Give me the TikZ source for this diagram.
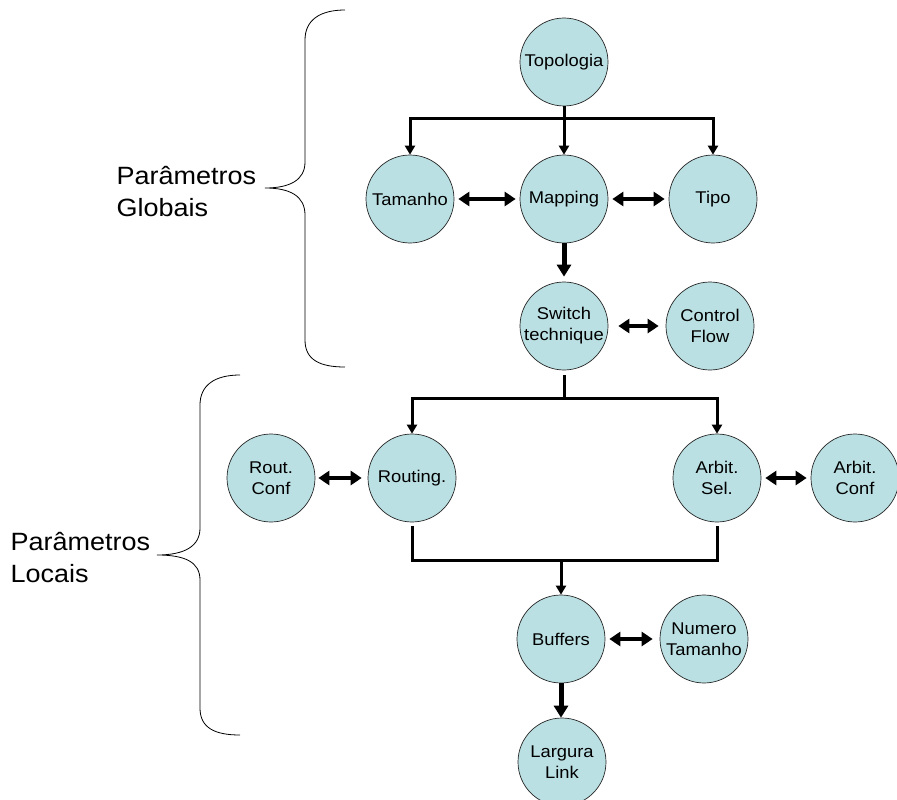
\documentclass[tikz,border=0pt]{standalone}
\usepackage{fontspec}
\setmainfont{Liberation Sans}[FakeStretch=1.08]
\usetikzlibrary{arrows.meta}
\definecolor{bubfill}{RGB}{187,224,227}
\begin{document}
\begin{tikzpicture}[x=1pt,y=-1pt,
 bub/.style={circle, minimum size=88pt, inner sep=0pt, draw=black!85, line width=0.7pt, fill=bubfill,
   label={[font=\fontsize{17}{21}\selectfont, align=center]center:#1}},
 bar/.style={line width=3pt},
 bararr/.style={line width=3pt, -{Triangle[length=9pt,width=10pt]}},
 bigarr/.style={line width=5pt, -{Triangle[length=12pt,width=14pt]}},
 dbl/.style={line width=4pt, {Triangle[length=11pt,width=14pt]}-{Triangle[length=11pt,width=14pt]}, shorten <=4pt, shorten >=4pt},
 brace/.style={line width=0.8pt},
 lbl/.style={font=\fontsize{25}{32}\selectfont, align=left, anchor=west}
]
\useasboundingbox (0,0) rectangle (897,800);
% nodes
\node[bub={Topologia}] (topo) at (564,62) {};
\node[bub={Tamanho}] (tam) at (410,199) {};
\node[bub={Mapping}] (map) at (564,199) {};
\node[bub={Tipo}] (tipo) at (713,199) {};
\node[bub={Switch\\technique}] (sw) at (564,326) {};
\node[bub={Control\\Flow}] (cf) at (710,326) {};
\node[bub={Rout.\\Conf}] (rc) at (271,478) {};
\node[bub={Routing.}] (rout) at (412,478) {};
\node[bub={Arbit.\\Sel.}] (asel) at (717,478) {};
\node[bub={Arbit.\\Conf}] (ac) at (855,478) {};
\node[bub={Buffers}] (buf) at (561,639) {};
\node[bub={Numero\\Tamanho}] (nt) at (704,639) {};
\node[bub={Largura\\Link}] (ll) at (562,762) {};
% bar coordinates
\coordinate (b1) at (564,118);
\coordinate (b2) at (564,398);
\coordinate (b3) at (561,560);
% connectors
\draw[bararr] (topo.south) -- (map.north);
\draw[bararr] (b1) -| (tam.north);
\draw[bararr] (b1) -| (tipo.north);
\draw[bigarr] (map.south) -- ([yshift=5pt]sw.north);
\draw[dbl] (tam) -- (map);
\draw[dbl] (map) -- (tipo);
\draw[dbl, shorten <=10pt, shorten >=7pt] (sw) -- (cf);
\draw[bar] ([yshift=-5pt]sw.south) -- (b2);
\draw[bararr] (b2) -| (rout.north);
\draw[bararr] (b2) -| (asel.north);
\draw[dbl, shorten <=3pt, shorten >=6pt] (rc) -- (rout);
\draw[dbl] (asel) -- (ac);
\draw[bar] ([yshift=-4pt]rout.south) -- (rout.south |- b3) -- (asel.south |- b3) -- ([yshift=-4pt]asel.south);
\draw[bararr] (b3) -- (buf.north);
\draw[dbl, shorten >=7pt] (buf) -- (nt);
\draw[bigarr] (buf.south) -- (buf.south |- ll.north);
% braces
\draw[brace] (345,10) .. controls (320,10) and (305,20) .. (305,40) -- (305,162)
  .. controls (305,180) and (290,188) .. (265,188)
  .. controls (290,188) and (305,196) .. (305,215) -- (305,340)
  .. controls (305,360) and (320,367) .. (345,367);
\draw[brace] (240,375) .. controls (215,375) and (200,385) .. (200,405) -- (200,528)
  .. controls (200,546) and (185,555) .. (157,555)
  .. controls (185,555) and (200,562) .. (200,580) -- (200,708)
  .. controls (200,728) and (215,735) .. (240,735);
% labels
\node[lbl] (pg) at (113,192) {Parâmetros\\Globais};
\node[lbl] (pl) at (7,558) {Parâmetros\\Locais};
\end{tikzpicture}
\end{document}
